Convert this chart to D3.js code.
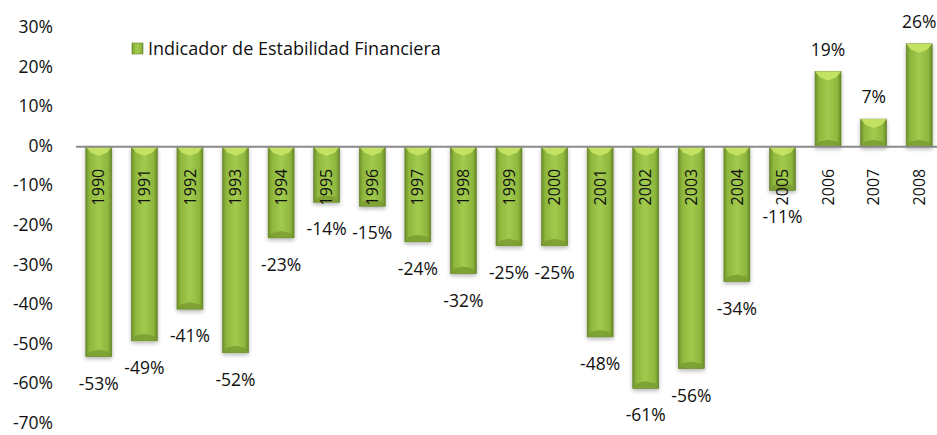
<!DOCTYPE html>
<html>
<head>
<meta charset="utf-8">
<script src="https://cdn.jsdelivr.net/npm/d3@7"></script>
<style>
  body { margin: 0; background: #fff; }
  text { font-family: "Open Sans", Lato, sans-serif; fill: #111; }
</style>
</head>
<body>
<svg id="chart" width="937" height="435"></svg>
<script>
const years = ['1990','1991','1992','1993','1994','1995','1996','1997','1998','1999',
               '2000','2001','2002','2003','2004','2005','2006','2007','2008']
const values = [-53, -49, -41, -52, -23, -14, -15, -24, -32, -25,
                -25, -48, -61, -56, -34, -11, 19, 7, 26]
const yTicks = [30, 20, 10, 0, -10, -20, -30, -40, -50, -60, -70]
const seriesName = 'Indicador de Estabilidad Financiera'

const svg = d3.select('#chart')

const x = d3.scaleBand()
    .domain(years)
    .range([76, 942])
    .paddingInner(0.43)
    .paddingOuter(0.215)

const y = d3.scaleLinear()
    .domain([-70, 30])
    .range([424, 28])

// gradients
const defs = svg.append('defs')
const grad = defs.append('linearGradient').attr('id', 'barGrad')
    .attr('x1', 0).attr('x2', 1).attr('y1', 0).attr('y2', 0)
grad.append('stop').attr('offset', '0%').attr('stop-color', '#6c8c28')
grad.append('stop').attr('offset', '14%').attr('stop-color', '#8db63c')
grad.append('stop').attr('offset', '50%').attr('stop-color', '#a2ca4e')
grad.append('stop').attr('offset', '86%').attr('stop-color', '#8db63c')
grad.append('stop').attr('offset', '100%').attr('stop-color', '#688726')

const filt = defs.append('filter').attr('id', 'shadow')
    .attr('x', '-30%').attr('y', '-10%').attr('width', '160%').attr('height', '130%')
filt.append('feGaussianBlur').attr('in', 'SourceAlpha').attr('stdDeviation', 2)
filt.append('feOffset').attr('dx', 0).attr('dy', 2).attr('result', 'b')
filt.append('feComponentTransfer').append('feFuncA').attr('type', 'linear').attr('slope', 0.3)
const merge = filt.append('feMerge')
merge.append('feMergeNode')
merge.append('feMergeNode').attr('in', 'SourceGraphic')

// y axis labels
svg.append('g')
    .selectAll('text')
    .data(yTicks)
    .join('text')
    .attr('x', 53)
    .attr('y', d => y(d))
    .attr('dy', '0.28em')
    .attr('text-anchor', 'end')
    .style('font-size', '17.5px')
    .text(d => d + '%')

// bars
const bars = svg.append('g')
    .selectAll('g')
    .data(years.map((yr, i) => ({ year: yr, value: values[i] })))
    .join('g')
    .attr('filter', 'url(#shadow)')

bars.append('rect')
    .attr('x', d => x(d.year))
    .attr('width', x.bandwidth())
    .attr('y', d => y(Math.max(0, d.value)))
    .attr('height', d => Math.abs(y(d.value) - y(0)))
    .attr('fill', 'url(#barGrad)')
    .attr('stroke', '#62802a')
    .attr('stroke-width', 0.6)

// top bevel (chevron)
bars.append('path')
    .attr('d', d => {
        const x0 = x(d.year), w = x.bandwidth()
        const top = y(Math.max(0, d.value))
        const h = 9
        return `M${x0},${top} L${x0 + w},${top} L${x0 + w - 5},${top + h - 3} L${x0 + w / 2},${top + h} L${x0 + 5},${top + h - 3} Z`
    })
    .attr('fill', '#c8e566')
    .attr('opacity', 0.9)

// bottom bevel
bars.append('path')
    .attr('d', d => {
        const x0 = x(d.year), w = x.bandwidth()
        const bot = y(Math.min(0, d.value))
        const h = 7
        return `M${x0},${bot} L${x0 + w},${bot} L${x0 + w - 4},${bot - h + 2} L${x0 + w / 2},${bot - h} L${x0 + 4},${bot - h + 2} Z`
    })
    .attr('fill', '#789a2f')
    .attr('opacity', 0.8)

// zero line
svg.append('line')
    .attr('x1', 76).attr('x2', 937)
    .attr('y1', y(0)).attr('y2', y(0))
    .attr('stroke', '#8a8a8a')
    .attr('stroke-width', 2)

// year labels
svg.append('g')
    .selectAll('text')
    .data(years)
    .join('text')
    .attr('transform', d => `translate(${x(d) + x.bandwidth() / 2},${y(0) + 22}) rotate(-90)`)
    .attr('text-anchor', 'end')
    .attr('dy', '0.35em')
    .style('font-size', '16px')
    .text(d => d)

// value labels
svg.append('g')
    .selectAll('text')
    .data(years.map((yr, i) => ({ year: yr, value: values[i] })))
    .join('text')
    .attr('x', d => x(d.year) + x.bandwidth() / 2)
    .attr('y', d => d.value < 0 ? y(d.value) + 27 : y(d.value) - 22)
    .attr('dy', '0.35em')
    .attr('text-anchor', 'middle')
    .style('font-size', '17.5px')
    .text(d => d.value + '%')

// legend
const legend = svg.append('g').attr('transform', 'translate(132,43)')
legend.append('rect')
    .attr('width', 11).attr('height', 11)
    .attr('fill', 'url(#barGrad)')
    .attr('stroke', '#62802a').attr('stroke-width', 0.6)
legend.append('text')
    .attr('x', 16).attr('y', 6)
    .attr('dy', '0.35em')
    .style('font-size', '18px')
    .text(seriesName)
</script>
</body>
</html>
